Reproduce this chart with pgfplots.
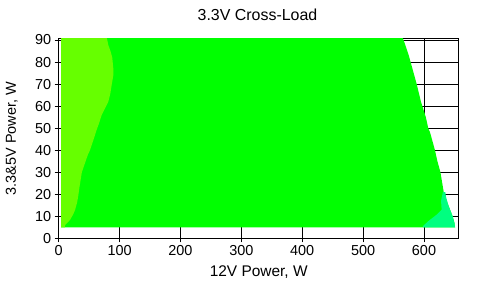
\documentclass[border=0pt]{standalone}
\usepackage{pgfplots}
\pgfplotsset{compat=1.18}
\usepackage{fontspec}
\setmainfont{Liberation Sans}
\definecolor{lgreen}{RGB}{102,255,0}
\definecolor{mgreen}{RGB}{0,255,0}
\definecolor{tgreen}{RGB}{0,255,128}
\begin{document}
\begin{tikzpicture}
\begin{axis}[
  scale only axis, width=400bp, height=199.6bp,
  xmin=0, xmax=657, ymin=0, ymax=90.6,
  xtick={0,100,...,600}, ytick={0,10,...,90},
  grid=major, grid style={black, line width=1bp},
  axis line style={black, line width=1bp},
  tick style={black, line width=1bp},
  tick align=outside, major tick length=4bp,
  xtick pos=bottom, ytick pos=left,
  /pgf/number format/assume math mode=true,
  ticklabel style={font=\fontsize{14.5}{16}\selectfont},
  label style={font=\fontsize{14.5}{16}\selectfont},
  title style={at={(axis description cs:0.497,1.0636)}, anchor=base},
  title={\fontsize{16}{18}\selectfont 3.3V Cross-Load},
  xlabel={\fontsize{15.5}{18}\selectfont 12V Power, W},
  ylabel={3.3\&5V Power, W},
  xlabel style={at={(axis description cs:0.5,-0.1924)}, anchor=base},
  ylabel style={at={(axis description cs:-0.10675,0.5)}, anchor=base},
]
\addplot[fill=mgreen, draw=none] coordinates {(4,5) (651,5) (650,7) (647,10) (640,15) (633,20) (630,25) (627,30) (622,35) (618,40) (613,45) (610,48) (607,50) (603,55) (595,62) (588,70) (581,77) (575,83) (569,88) (565,91) (4,91)} -- cycle;
\addplot[fill=lgreen, draw=none] coordinates {(4,5) (10,5) (10.5,6) (14,7) (18.5,8.3) (24,11) (26.8,12.8) (30,16) (32,19) (34,23) (36,26.5) (38,30) (43,34) (48,38) (51.4,40) (57,44.6) (62,49) (66,52) (70.6,56) (76,59) (81.5,62) (85,66) (87,69.6) (89.7,74) (89.7,77) (88,82) (85,85) (81.5,87.7) (79,91) (4,91)} -- cycle;
\addplot[fill=tgreen, draw=none] coordinates {(598,5) (651,5) (650,7) (647,10) (640,15) (636,19) (635,21) (631,21) (628,17) (629,13) (622,11) (615,9.5) (608,8) (602,6.5) (598,5.5)} -- cycle;
\coordinate (O) at (rel axis cs:0,0);
\end{axis}
\pgfresetboundingbox
\path[use as bounding box] (O) ++(-58.7bp,-47.7bp) rectangle ++(487bp,286bp);
\end{tikzpicture}
\end{document}
